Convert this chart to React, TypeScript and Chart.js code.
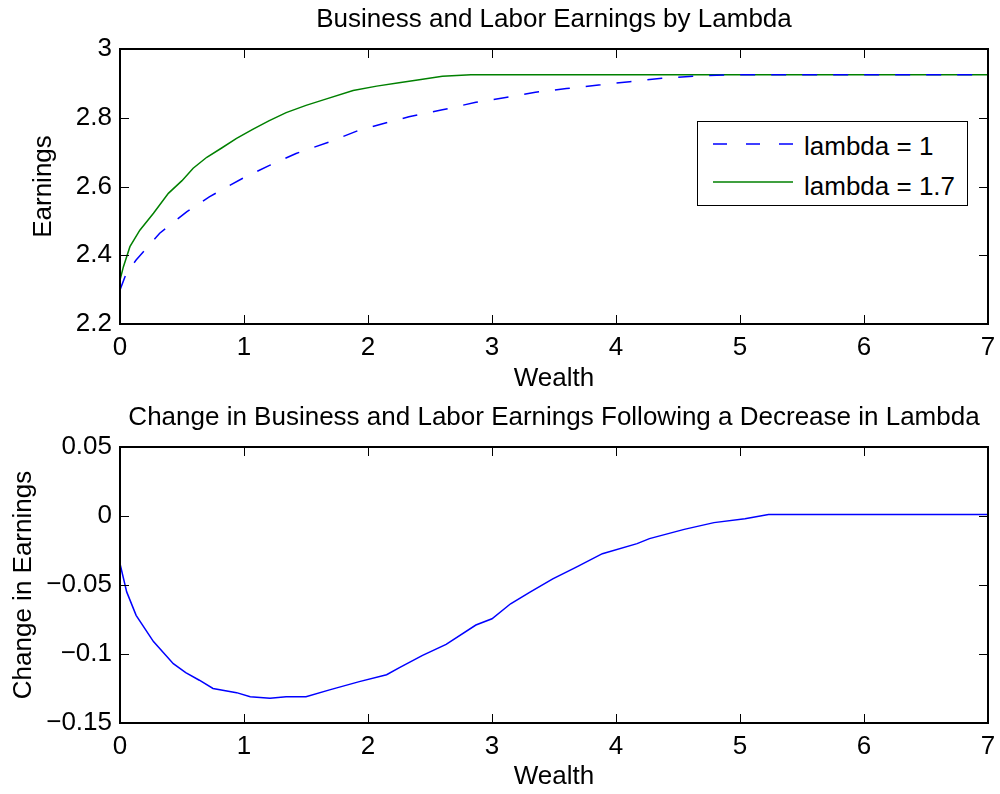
import React, { useEffect, useRef } from "react";
import { Chart, registerables } from "chart.js";

Chart.register(...registerables);

const FONT = "'Liberation Sans', Arial, Helvetica, sans-serif";
const FONT_SIZE = 26;

// ---- tick values / labels ----
const xTicks = [0, 1, 2, 3, 4, 5, 6, 7];
const topYTicks = [2.2, 2.4, 2.6, 2.8, 3];
const topYTickLabels = ["2.2", "2.4", "2.6", "2.8", "3"];
const bottomYTicks = [-0.15, -0.1, -0.05, 0, 0.05];
const bottomYTickLabels = ["\u22120.15", "\u22120.1", "\u22120.05", "0", "0.05"];

// ---- series: lambda = 1 ----
const wealthLambda1 = [0, 0.05, 0.13, 0.22, 0.32, 0.54, 0.72, 0.99, 1.21, 1.42, 1.69, 1.93, 2.33, 2.6, 2.87, 3.11, 3.35, 3.6, 3.86, 4.11, 4.37, 4.62, 4.9, 7];
const earningsLambda1 = [2.299, 2.347, 2.386, 2.423, 2.464, 2.527, 2.57, 2.624, 2.662, 2.696, 2.73, 2.764, 2.803, 2.823, 2.845, 2.859, 2.874, 2.885, 2.895, 2.905, 2.915, 2.921, 2.925, 2.925];

// ---- series: lambda = 1.7 ----
const wealthLambda17 = [0, 0.027, 0.08, 0.16, 0.27, 0.39, 0.5, 0.59, 0.7, 0.82, 0.94, 1.07, 1.2, 1.34, 1.5, 1.64, 1.88, 2.07, 2.25, 2.4, 2.6, 2.83, 7];
const earningsLambda17 = [2.328, 2.366, 2.425, 2.473, 2.522, 2.58, 2.617, 2.653, 2.685, 2.712, 2.74, 2.766, 2.791, 2.815, 2.836, 2.852, 2.879, 2.892, 2.902, 2.91, 2.921, 2.925, 2.925];

// ---- series: change in earnings ----
const wealthChange = [0, 0.054, 0.13, 0.27, 0.43, 0.53, 0.64, 0.75, 0.94, 1.05, 1.21, 1.34, 1.5, 1.69, 1.93, 2.15, 2.25, 2.44, 2.63, 2.87, 3.0, 3.15, 3.31, 3.49, 3.68, 3.89, 4.17, 4.27, 4.55, 4.79, 5.04, 5.23, 7];
const earningsChange = [-0.0346, -0.055, -0.072, -0.091, -0.107, -0.1135, -0.119, -0.125, -0.128, -0.131, -0.132, -0.131, -0.131, -0.126, -0.12, -0.115, -0.11, -0.101, -0.093, -0.079, -0.0745, -0.0636, -0.055, -0.0455, -0.037, -0.0273, -0.02, -0.0164, -0.0097, -0.0048, -0.002, 0.001, 0.001];

const seriesLabels = ["lambda = 1", "lambda = 1.7"];
const seriesColors = ["#0000ff", "#008000"];
const changeColor = "#0000ff";

const toPoints = (xs: number[], ys: number[]) => xs.map((x, i) => ({ x, y: ys[i] }));

// Draws the MATLAB-style box and inward tick marks on all four sides
const framePlugin = {
  id: "matlabFrame",
  afterDatasetsDraw(chart: any) {
    const { ctx, chartArea: a, scales } = chart;
    const tl = 9;
    ctx.save();
    ctx.strokeStyle = "#000";
    ctx.lineWidth = 1;
    ctx.beginPath();
    for (const t of scales.x.ticks) {
      const px = Math.round(scales.x.getPixelForValue(t.value)) + 0.5;
      ctx.moveTo(px, a.bottom);
      ctx.lineTo(px, a.bottom - tl);
      ctx.moveTo(px, a.top);
      ctx.lineTo(px, a.top + tl);
    }
    for (const t of scales.y.ticks) {
      const py = Math.round(scales.y.getPixelForValue(t.value)) + 0.5;
      ctx.moveTo(a.left, py);
      ctx.lineTo(a.left + tl, py);
      ctx.moveTo(a.right, py);
      ctx.lineTo(a.right - tl, py);
    }
    ctx.stroke();
    ctx.lineWidth = 2;
    ctx.strokeRect(a.left, a.top, a.right - a.left, a.bottom - a.top);
    ctx.restore();
  },
};

function makeOptions(cfg: {
  title: string;
  titlePad: { top: number; bottom: number };
  yMin: number;
  yMax: number;
  yTicks: number[];
  yLabels: string[];
  yTitle: string;
  yTitlePadTop: number;
  xHeight: number;
  xTitlePadBottom: number;
}) {
  const font = { family: FONT, size: FONT_SIZE, lineHeight: 1.2 };
  return {
    responsive: false,
    animation: false as const,
    layout: { padding: { left: 0, right: 12, top: 0, bottom: 0 } },
    plugins: {
      legend: { display: false },
      tooltip: { enabled: false },
      title: {
        display: true,
        text: cfg.title,
        color: "#000",
        font: { ...font, weight: "normal" as const },
        padding: cfg.titlePad,
        fullSize: false,
      },
    },
    scales: {
      x: {
        type: "linear" as const,
        min: 0,
        max: 7,
        grid: { display: false, drawTicks: false },
        border: { display: false },
        afterBuildTicks: (s: any) => {
          s.ticks = xTicks.map((v) => ({ value: v }));
        },
        afterFit: (s: any) => {
          s.height = cfg.xHeight;
          s.paddingLeft = 0;
          s.paddingRight = 0;
        },
        ticks: {
          autoSkip: false,
          maxRotation: 0,
          padding: 8.4,
          color: "#000",
          font,
          callback: (_v: any, i: number) => String(xTicks[i]),
        },
        title: {
          display: true,
          text: "Wealth",
          color: "#000",
          font,
          padding: { top: 0, bottom: cfg.xTitlePadBottom },
        },
      },
      y: {
        type: "linear" as const,
        min: cfg.yMin,
        max: cfg.yMax,
        grid: { display: false, drawTicks: false },
        border: { display: false },
        afterBuildTicks: (s: any) => {
          s.ticks = cfg.yTicks.map((v) => ({ value: v }));
        },
        afterFit: (s: any) => {
          s.width = 120;
        },
        ticks: {
          autoSkip: false,
          padding: 8,
          color: "#000",
          font,
          callback: (_v: any, i: number) => cfg.yLabels[i],
        },
        title: {
          display: true,
          text: cfg.yTitle,
          color: "#000",
          font,
          padding: { top: cfg.yTitlePadTop, bottom: 0 },
        },
      },
    },
  };
}

function TopChart() {
  const ref = useRef<HTMLCanvasElement | null>(null);
  useEffect(() => {
    if (!ref.current) return;
    const chart = new Chart(ref.current, {
      type: "line",
      data: {
        datasets: [
          {
            label: seriesLabels[0],
            data: toPoints(wealthLambda1, earningsLambda1),
            borderColor: seriesColors[0],
            borderWidth: 1.5,
            borderDash: [15, 16],
            pointRadius: 0,
            tension: 0,
            fill: false,
          },
          {
            label: seriesLabels[1],
            data: toPoints(wealthLambda17, earningsLambda17),
            borderColor: seriesColors[1],
            borderWidth: 1.5,
            pointRadius: 0,
            tension: 0,
            fill: false,
          },
        ],
      },
      options: makeOptions({
        title: "Business and Labor Earnings by Lambda",
        titlePad: { top: 4.1, bottom: 13.7 },
        yMin: 2.2,
        yMax: 3,
        yTicks: topYTicks,
        yLabels: topYTickLabels,
        yTitle: "Earnings",
        yTitlePadTop: 28.4,
        xHeight: 73,
        xTitlePadBottom: 2.9,
      }) as any,
      plugins: [framePlugin],
    });
    return () => chart.destroy();
  }, []);
  return <canvas ref={ref} width={1000} height={397} style={{ display: "block" }} />;
}

function BottomChart() {
  const ref = useRef<HTMLCanvasElement | null>(null);
  useEffect(() => {
    if (!ref.current) return;
    const chart = new Chart(ref.current, {
      type: "line",
      data: {
        datasets: [
          {
            label: "Change in Earnings",
            data: toPoints(wealthChange, earningsChange),
            borderColor: changeColor,
            borderWidth: 1.5,
            pointRadius: 0,
            tension: 0,
            fill: false,
          },
        ],
      },
      options: makeOptions({
        title: "Change in Business and Labor Earnings Following a Decrease in Lambda",
        titlePad: { top: 5.4, bottom: 13.4 },
        yMin: -0.15,
        yMax: 0.05,
        yTicks: bottomYTicks,
        yLabels: bottomYTickLabels,
        yTitle: "Change in Earnings",
        yTitlePadTop: 8.4,
        xHeight: 71,
        xTitlePadBottom: 1.4,
      }) as any,
      plugins: [framePlugin],
    });
    return () => chart.destroy();
  }, []);
  return <canvas ref={ref} width={1000} height={397} style={{ display: "block" }} />;
}

function Legend() {
  const rows = [
    { y: 22, textY: 24, dash: "14 19" },
    { y: 60, textY: 64, dash: "" },
  ];
  return (
    <div
      style={{
        position: "absolute",
        left: 697,
        top: 121,
        width: 271,
        height: 85,
        boxSizing: "border-box",
        border: "1.5px solid #000",
        background: "#fff",
        fontFamily: FONT,
        fontSize: FONT_SIZE,
        color: "#000",
      }}
    >
      <svg width={268} height={82} style={{ position: "absolute", left: 0, top: 0 }}>
        {rows.map((r, i) => (
          <line
            key={i}
            x1={15}
            x2={95}
            y1={r.y}
            y2={r.y}
            stroke={seriesColors[i]}
            strokeWidth={1.5}
            strokeDasharray={r.dash || undefined}
          />
        ))}
      </svg>
      {rows.map((r, i) => (
        <div
          key={i}
          style={{
            position: "absolute",
            left: 106,
            top: r.textY - 16,
            height: 32,
            lineHeight: "32px",
            whiteSpace: "nowrap",
          }}
        >
          {seriesLabels[i]}
        </div>
      ))}
    </div>
  );
}

export default function App() {
  return (
    <div style={{ position: "absolute", left: 0, top: 0, width: 1000, height: 794, background: "#fff" }}>
      <TopChart />
      <BottomChart />
      <Legend />
    </div>
  );
}
